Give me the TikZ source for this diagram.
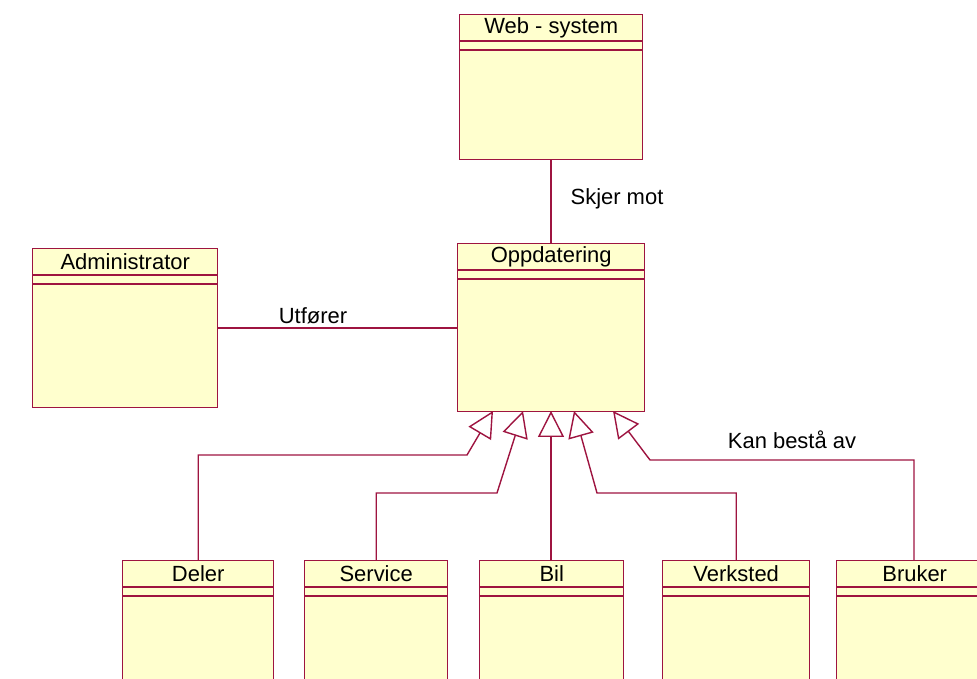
\documentclass[tikz,border=0pt]{standalone}
\usepackage{fontspec}
\setmainfont{Liberation Sans}
\usetikzlibrary{positioning, calc, arrows.meta}

\definecolor{umlred}{RGB}{158,20,64}
\definecolor{umlfill}{RGB}{255,255,206}

\tikzset{
  classbox/.style={draw=umlred, fill=umlfill, line width=0.8pt, anchor=north west, inner sep=0pt, minimum height=#1},
  classbox/.default=3.2cm,
  classname/.style={inner sep=0pt, font=\fontsize{12.5}{15}\selectfont},
  umlline/.style={draw=umlred, line width=0.8pt},
  gen/.style={umlline, -{Triangle[length=0.52cm, width=0.52cm, fill=white, line width=0.8pt]}},
  assoclabel/.style={inner sep=0pt, font=\fontsize{12.5}{15}\selectfont}
}

\begin{document}
\begin{tikzpicture}
\useasboundingbox (0,0) rectangle (19.54,13.58);
\clip (0,0) rectangle (19.54,13.58);

% class boxes
\node (web) at (9.18, 13.30) [classbox=2.90cm, minimum width=3.66cm] {};
\node (opp) at (9.14, 8.72) [classbox=3.36cm, minimum width=3.74cm] {};
\node (admin) at (0.64, 8.62) [classbox=3.18cm, minimum width=3.70cm] {};
\node (deler) at (2.44, 2.38) [classbox=2.8cm, minimum width=3.02cm] {};
\node (service) at (6.08, 2.38) [classbox=2.8cm, minimum width=2.86cm] {};
\node (bil) at (9.58, 2.38) [classbox=2.8cm, minimum width=2.88cm] {};
\node (verksted) at (13.24, 2.38) [classbox=2.8cm, minimum width=2.94cm] {};
\node (bruker) at (16.72, 2.38) [classbox=2.8cm, minimum width=3.12cm] {};

% compartments
\foreach \b in {web, opp, admin, deler, service, bil, verksted, bruker} {
  \draw[umlline] ($(\b.north west)+(0,-0.54)$) -- ($(\b.north east)+(0,-0.54)$);
  \draw[umlline] ($(\b.north west)+(0,-0.72)$) -- ($(\b.north east)+(0,-0.72)$);
}

% class names
\node (webname) at ($(web.north)+(0,-0.28)$) [classname] {Web - system};
\node (oppname) at ($(opp.north)+(0,-0.28)$) [classname] {Oppdatering};
\node (adminname) at ($(admin.north)+(0,-0.28)$) [classname] {Administrator};
\node (delername) at ($(deler.north)+(0,-0.28)$) [classname] {Deler};
\node (servicename) at ($(service.north)+(0,-0.28)$) [classname] {Service};
\node (bilname) at ($(bil.north)+(0,-0.28)$) [classname] {Bil};
\node (verkstedname) at ($(verksted.north)+(0,-0.28)$) [classname] {Verksted};
\node (brukername) at ($(bruker.north)+(0,-0.28)$) [classname] {Bruker};

% associations
\draw[umlline] (web.south -| 11.02,0) -- (opp.north -| 11.02,0);
\node (skjer) at (12.34, 9.60) [assoclabel] {Skjer mot};
\draw[umlline] (admin.east |- 0,7.02) -- (opp.west |- 0,7.02);
\node (utforer) at (6.26, 7.26) [assoclabel] {Utfører};

% generalizations
\coordinate (tipdeler) at (9.86, 5.36);
\coordinate (tipservice) at (10.46, 5.36);
\coordinate (tipbil) at (11.02, 5.36);
\coordinate (tipverksted) at (11.48, 5.36);
\coordinate (tipbruker) at (12.26, 5.36);
\coordinate (benddeler) at (9.34, 4.48);
\coordinate (bendservice) at (9.94, 3.72);
\coordinate (bendverksted) at (11.94, 3.72);
\coordinate (bendbruker) at (13.00, 4.38);

\draw[gen] (deler.north) |- (benddeler) -- (tipdeler);
\draw[gen] (service.north) |- (bendservice) -- (tipservice);
\draw[gen] (bil.north -| tipbil) -- (tipbil);
\draw[gen] (verksted.north) |- (bendverksted) -- (tipverksted);
\draw[gen] (bruker.north -| 18.28,0) |- (bendbruker) -- (tipbruker);
\node (kan) at (15.84, 4.78) [assoclabel] {Kan bestå av};
\end{tikzpicture}
\end{document}
